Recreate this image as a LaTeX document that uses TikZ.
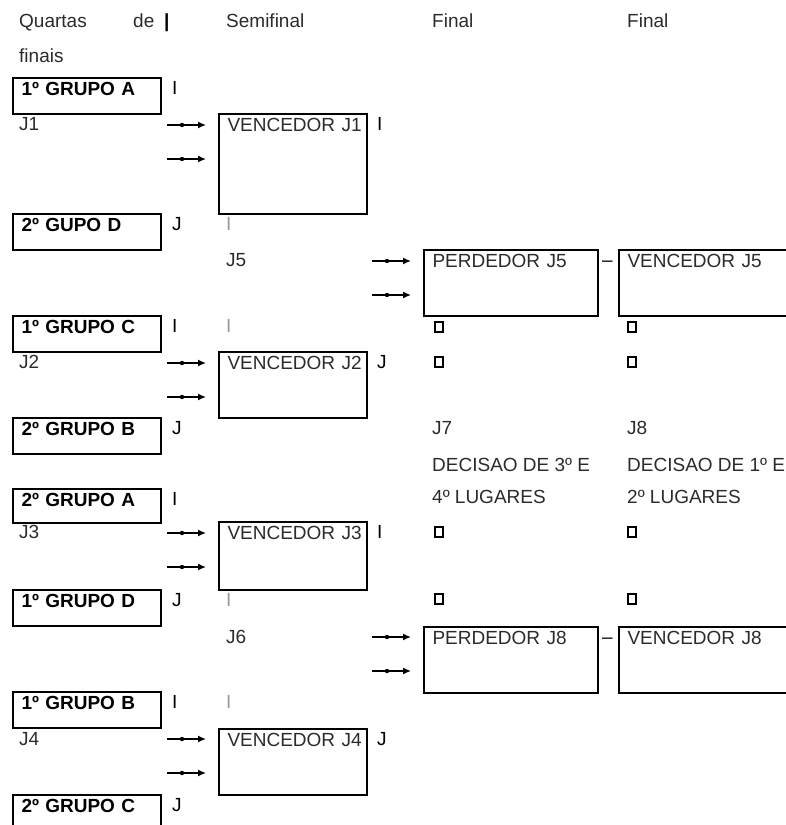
\documentclass[tikz,border=0pt]{standalone}
\usepackage{fontspec}
\setmainfont{Liberation Sans}
\usetikzlibrary{arrows.meta}
\newcommand{\bracketfont}{\fontsize{19}{22}\selectfont}
\definecolor{BracketInk}{HTML}{2B2B2B}
\definecolor{BracketFaint}{HTML}{9A9A9A}
\tikzset{
  lbl/.style={anchor=base west, inner sep=0pt, text=BracketInk},
  side/.style={anchor=base west, inner sep=0pt, text=black},
  faint/.style={side, text=BracketFaint},
  box/.style={draw=black, line width=2pt, anchor=north west, inner xsep=0pt, inner ysep=0pt,
              align=left, text height=17pt, execute at begin node={\hspace*{8.5pt}}},
  grp/.style={box, text width=148pt, text depth=19pt, font=\bracketfont\bfseries, text=black},
  semi/.style={box, text width=148pt, text depth=49pt, text=BracketInk},
  fin/.style={box, text width=174pt, text depth=49pt, text=BracketInk},
  adv/.style={-{Latex[length=8pt,width=7pt]}, line width=1.4pt, shorten >=12pt},
}
\begin{document}
\begin{tikzpicture}[x=1pt, y=-1pt, font=\bracketfont]
  \useasboundingbox (0,0) rectangle (786,825);
  % column heads
  \node[lbl] (hq) at (19,27) {Quartas};
  \node[lbl] (hde) at (133,27) {de};
  \node[side, font=\bracketfont\bfseries] (hbar) at (164,27) {|};
  \node[lbl] (hfin) at (19,62) {finais};
  \node[lbl] (hsemi) at (226,27) {Semifinal};
  \node[lbl] (hf1) at (432,27) {Final};
  \node[lbl] (hf2) at (627,27) {Final};

  % quartas de finais
  \node[grp] (q1a) at (12,77) {1º GRUPO A};
  \node[grp] (q2d) at (12,213) {2º GUPO D};
  \node[grp] (q1c) at (12,315) {1º GRUPO C};
  \node[grp] (q2b) at (12,417) {2º GRUPO B};
  \node[grp, text depth=17pt] (q2a) at (12,488) {2º GRUPO A};
  \node[grp] (q1d) at (12,589) {1º GRUPO D};
  \node[grp] (q1b) at (12,691) {1º GRUPO B};
  \node[grp] (q2c) at (12,794) {2º GRUPO C};
  \node[lbl] (j1) at (19,130) {J1};
  \node[lbl] (j2) at (19,368) {J2};
  \node[lbl] (j3) at (19,538) {J3};
  \node[lbl] (j4) at (19,745) {J4};
  \node[side] (m1a) at (172,94) {I};
  \node[side] (m2d) at (172,230) {J};
  \node[side] (m1c) at (172,332) {I};
  \node[side] (m2b) at (172,434) {J};
  \node[side] (m2a) at (172,505) {I};
  \node[side] (m1d) at (172,606) {J};
  \node[side] (m1b) at (172,708) {I};
  \node[side] (m2c) at (172,811) {J};

  % semifinal
  \node[semi, text depth=83pt] (s1) at (218,113) {VENCEDOR J1};
  \node[semi] (s2) at (218,351) {VENCEDOR J2};
  \node[semi, text depth=51pt] (s3) at (218,521) {VENCEDOR J3};
  \node[semi] (s4) at (218,728) {VENCEDOR J4};
  \node[side] (ms1) at (377,130) {I};
  \node[side] (ms2) at (377,368) {J};
  \node[side] (ms3) at (377,538) {I};
  \node[side] (ms4) at (377,745) {J};
  \node[faint] (g1) at (226,230) {I};
  \node[faint] (g2) at (226,332) {I};
  \node[faint] (g3) at (226,606) {I};
  \node[faint] (g4) at (226,708) {I};
  \node[lbl] (j5) at (226,266) {J5};
  \node[lbl] (j6) at (226,643) {J6};

  % finais
  \node[fin] (pj5) at (423,249) {PERDEDOR J5};
  \node[fin] (vj5) at (618,249) {VENCEDOR J5};
  \node[fin] (pj8) at (423,626) {PERDEDOR J8};
  \node[fin] (vj8) at (618,626) {VENCEDOR J8};
  \node[side] (d5) at (602,266) {–};
  \node[side] (d8) at (602,643) {–};
  \node[lbl] (j7) at (432,434) {J7};
  \node[lbl] (j8) at (627,434) {J8};
  \node[lbl] (dec3) at (432,471) {DECISAO DE 3º E};
  \node[lbl] (lug3) at (432,503) {4º LUGARES};
  \node[lbl] (dec1) at (627,471) {DECISAO DE 1º E};
  \node[lbl] (lug1) at (627,503) {2º LUGARES};
  \foreach \x in {435,628}
    \foreach \y in {322,357,527,594}
      \draw[line width=1.2pt] (\x,\y) rectangle ++(8,10);

  % arrows into the boxes
  \coordinate (a1) at (167,125);
  \coordinate (b1) at (167,159);
  \coordinate (a2) at (167,363);
  \coordinate (b2) at (167,397);
  \coordinate (a3) at (167,533);
  \coordinate (b3) at (167,567);
  \coordinate (a4) at (167,739);
  \coordinate (b4) at (167,773);
  \coordinate (a5) at (372,261);
  \coordinate (b5) at (372,295);
  \coordinate (a6) at (372,637);
  \coordinate (b6) at (372,671);
  \foreach \c/\t in {a1/s1,b1/s1,a2/s2,b2/s2,a3/s3,b3/s3,a4/s4,b4/s4,a5/pj5,b5/pj5,a6/pj8,b6/pj8} {
    \draw[adv] (\c) -- (\c -| \t.west);
    \fill ([xshift=15pt]\c) circle (2.2pt);
  }
\end{tikzpicture}
\end{document}
